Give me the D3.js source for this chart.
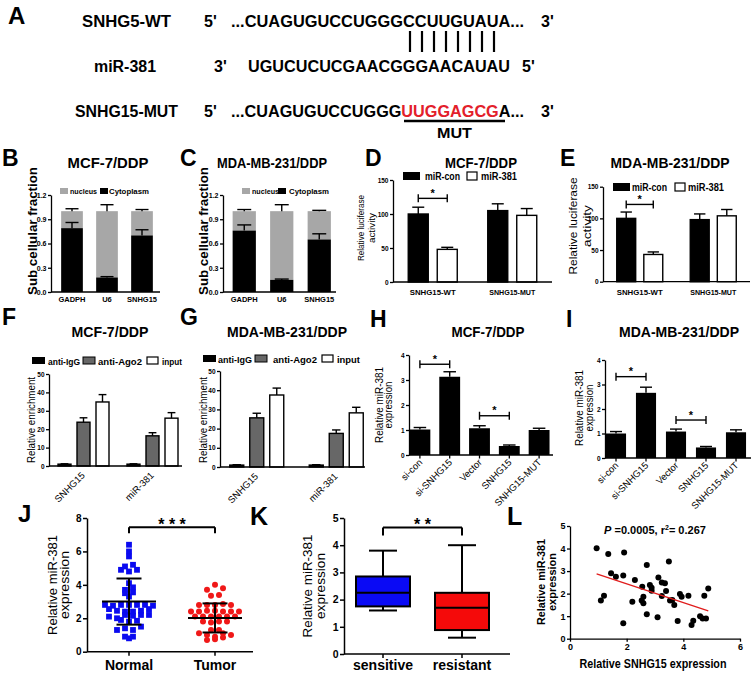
<!DOCTYPE html>
<html>
<head>
<meta charset="utf-8">
<script src="https://cdn.jsdelivr.net/npm/d3@7/dist/d3.min.js"></script>
<style>html,body{margin:0;padding:0;background:#fff;}svg{display:block;}</style>
</head>
<body>
<script>
// ================= DATA =================
// Panel A
const seqWT = "...CUAGUGUCCUGGGCCUUGUAUA...";
const seqMiR = "UGUCUCUCGAACGGGAACAUAU";
const seqMutParts = ["...CUAGUGUCCUGGG", "UUGGAGCG", "A..."];
const pairedIdx = [16, 17, 18, 19, 20, 21, 22, 23];
// Panels B, C (subcellular fraction)
const fracGenes = ["GADPH", "U6", "SNHG15"];
const fracLegend = ["nucleus", "Cytoplasm"];
const cytoB = [0.79, 0.18, 0.70];
const cytoErrB = [0.07, 0.01, 0.07];
const nucB = [0.21, 0.82, 0.30];
const nucErrB = [0.03, 0.08, 0.02];
const cytoC = [0.76, 0.15, 0.65];
const cytoErrC = [0.07, 0.01, 0.07];
const nucC = [0.24, 0.85, 0.35];
const nucErrC = [0.02, 0.08, 0.01];
const fracTicks = [0, 0.3, 0.6, 0.9, 1.2];
// Panels D, E (luciferase)
const lucGroups = ["SNHG15-WT", "SNHG15-MUT"];
const lucSeries = ["miR-con", "miR-381"];
const lucD = [[100, 48], [105, 98]];
const lucErrD = [[10, 3], [10, 10]];
const lucE = [[100, 43], [98, 104]];
const lucErrE = [[10, 4], [9, 10]];
const lucTicks = [0, 50, 100, 150];
const lucSigD = [{group: "SNHG15-WT", y: 123, label: "*"}];
const lucSigE = [{group: "SNHG15-WT", y: 122, label: "*"}];
// Panels F, G (RIP)
const ripGroups = ["SNHG15", "miR-381"];
const ripSeries = ["anti-IgG", "anti-Ago2", "input"];
const ripF = [[1, 23.8, 34.8], [1, 16.4, 26]];
const ripErrF = [[0.2, 2.4, 4], [0.2, 1.7, 3]];
const ripG = [[1, 25.6, 37.5], [1, 17.5, 28.2]];
const ripErrG = [[0.2, 2.4, 3.6], [0.2, 1.8, 2.9]];
const ripTicks = [0, 10, 20, 30, 40, 50];
// Panels H, I (miR-381 expression)
const exprCats = ["si-con", "si-SNHG15", "Vector", "SNHG15", "SNHG15-MUT"];
const exprH = [1.02, 3.13, 1.07, 0.36, 1.0];
const exprErrH = [0.08, 0.2, 0.1, 0.04, 0.07];
const exprI = [1.0, 2.66, 1.08, 0.43, 1.05];
const exprErrI = [0.08, 0.23, 0.1, 0.04, 0.1];
const exprTicks = [0, 1, 2, 3, 4];
const exprSigH = [{from: "si-con", to: "si-SNHG15", y: 3.63, label: "*"}, {from: "Vector", to: "SNHG15", y: 1.57, label: "*"}];
const exprSigI = [{from: "si-con", to: "si-SNHG15", y: 3.32, label: "*"}, {from: "Vector", to: "SNHG15", y: 1.55, label: "*"}];
// Panel J (scatter dot plot)
const jCats = ["Normal", "Tumor"];
const jNormal = [6.4, 6.0, 5.7, 5.1, 5.2, 4.9, 4.8, 4.9, 4.1, 3.7, 3.85, 3.5, 3.55, 3.3,
  2.8, 2.75, 2.8, 2.8, 2.8, 2.8, 2.75, 2.55, 2.45, 2.4, 2.4, 2.45, 2.55,
  2.1, 2.0, 2.2, 2.15, 2.2, 2.2, 1.9, 1.8, 1.85, 1.3, 1.4, 1.3, 1.5, 0.8, 0.9, 0.9];
const jTumor = [3.7, 4.0, 3.8, 3.35, 3.4, 2.8, 2.8, 2.8, 2.85, 2.8,
  2.4, 2.4, 2.45, 2.45, 2.4, 2.4, 2.4, 2.1, 2.1, 2.1, 2.1, 2.1, 2.1,
  1.8, 1.75, 1.8, 1.8, 1.3, 1.3, 1.1, 1.0, 0.9, 1.1, 1.0, 0.7, 0.75, 0.85];
const jMean = [3.0, 2.02];
const jSD = [1.38, 0.87];
const jTicks = [0, 2, 4, 6, 8];
const jSig = {y: 7.45, label: "* * *"};
// Panel K (box plot)
const kCats = ["sensitive", "resistant"];
const kMin = [1.6, 0.6];
const kQ1 = [1.75, 0.88];
const kMed = [2.25, 1.7];
const kQ3 = [2.85, 2.25];
const kMax = [3.8, 4.0];
const kTicks = [0, 1, 2, 3, 4, 5];
const kSig = {y: 4.65, label: "* *"};
// Panel L (correlation)
const lX = [0.94, 1.35, 1.91, 1.45, 1.62, 1.88, 2.71, 2.29, 1.2, 1.09, 1.88, 2.2, 2.55, 2.59, 2.53, 2.59, 2.71,
  2.82, 2.88, 2.88, 3.12, 3.24, 3.35, 3.39, 3.24, 3.49, 3.53, 3.61, 3.68, 3.09, 3.8, 3.88, 3.94, 4.18,
  4.29, 4.35, 4.59, 4.68, 4.8, 4.74, 4.88];
const lY = [4.01, 3.76, 3.82, 2.9, 2.75, 2.8, 3.27, 2.6, 1.91, 1.69, 0.68, 1.64, 2.31, 1.86, 1.69, 1.57, 1.09,
  2.38, 2.26, 2.13, 2.71, 2.49, 2.46, 2.12, 1.89, 3.42, 1.69, 1.72, 1.49, 0.95, 0.78, 1.98, 1.86, 1.91,
  0.61, 0.8, 1.0, 0.9, 0.9, 1.91, 2.23];
const lFit = [3.26, -0.414]; // intercept, slope
const lStats = ["0.0005", "0.267"];
const lXTicks = [0, 2, 4, 6];
const lYTicks = [0, 1, 2, 3, 4, 5];

// ================= DRAWING =================
const FONT = "'Liberation Sans', Arial, Helvetica, sans-serif";
const svg = d3.select("body").append("svg").attr("width", 753).attr("height", 673)
  .attr("font-family", FONT);
svg.append("rect").attr("width", 753).attr("height", 673).attr("fill", "#fff");

function T(g, s, x, y, o = {}) {
  const t = g.append("text").attr("x", x).attr("y", y)
    .attr("font-family", FONT).attr("font-size", o.size || 10)
    .attr("font-weight", o.bold === false ? "normal" : "bold")
    .attr("text-anchor", o.anchor || "start").attr("fill", o.fill || "#000").text(s);
  if (o.w) t.attr("textLength", o.w).attr("lengthAdjust", "spacingAndGlyphs");
  if (o.rot != null) t.attr("transform", `rotate(${o.rot},${x},${y})`);
  return t;
}
function L(g, x1, y1, x2, y2, sw = 1.4, c = "#000") {
  return g.append("line").attr("x1", x1).attr("y1", y1).attr("x2", x2).attr("y2", y2)
    .attr("stroke", c).attr("stroke-width", sw);
}
function errBar(g, x, y1, y2, cap, sw = 1.4) {
  L(g, x, y1, x, y2, sw); L(g, x - cap / 2, y2, x + cap / 2, y2, sw);
}
function yAxis(g, y, x, ticks, fmt, o = {}) {
  const ax = d3.axisLeft(y).tickValues(ticks).tickFormat(fmt).tickSize(o.tick || 3)
    .tickSizeOuter(0).tickPadding(o.pad == null ? 1.5 : o.pad);
  const a = g.append("g").attr("transform", `translate(${x},0)`).call(ax)
    .attr("font-family", FONT);
  a.select(".domain").attr("stroke", "#000").attr("stroke-width", o.sw || 1.3);
  a.selectAll(".tick line").attr("stroke", "#000").attr("stroke-width", o.sw || 1.3);
  a.selectAll(".tick text").attr("font-size", o.size || 7).attr("font-weight", "bold").attr("fill", "#000");
  return a;
}
function yTitle(g, lines, xs, cy, o) {
  lines.forEach((s, i) => T(g, s, xs[i], cy, {size: o.size, bold: o.bold, anchor: "middle", rot: -90, w: o.w ? o.w[i] : null}));
}
function sigBracket(g, x1, x2, y, label, o) {
  L(g, x1, y, x2, y, o.sw || 1.4);
  L(g, x1, y - (o.up || 0), x1, y + (o.down || 0), o.sw || 1.4);
  L(g, x2, y - (o.up || 0), x2, y + (o.down || 0), o.sw || 1.4);
  T(g, label, (x1 + x2) / 2, y + o.ldy, {size: o.size, anchor: "middle"});
}

// ---------- Panel A ----------
(function () {
  const g = svg.append("g");
  T(g, "A", 8, 24, {size: 24});
  const fs = 16;
  T(g, "SNHG5-WT", 126.5, 27, {size: fs, anchor: "middle", w: 89});
  T(g, "5'", 204, 27, {size: fs});
  const wt = T(g, seqWT, 231, 27, {size: fs, w: 293});
  T(g, "3'", 541, 27, {size: fs});

  T(g, "miR-381", 125, 72, {size: fs, anchor: "middle", w: 62});
  T(g, "3'", 214, 72, {size: fs});
  T(g, seqMiR, 248, 72, {size: fs, w: 262});
  T(g, "5'", 522, 72, {size: fs});

  T(g, "SNHG15-MUT", 126.5, 117, {size: fs, anchor: "middle", w: 103});
  T(g, "5'", 204, 117, {size: fs});
  const mut = g.append("text").attr("x", 231).attr("y", 117).attr("font-size", fs)
    .attr("font-weight", "bold").attr("font-family", FONT)
    .attr("textLength", 293).attr("lengthAdjust", "spacingAndGlyphs");
  mut.append("tspan").attr("fill", "#000").text(seqMutParts[0]);
  mut.append("tspan").attr("fill", "#e3202a").text(seqMutParts[1]);
  mut.append("tspan").attr("fill", "#000").text(seqMutParts[2]);
  T(g, "3'", 541, 117, {size: fs});

  const wn = wt.node();
  pairedIdx.forEach((ci, k) => {
    let cx;
    try { const r = wn.getExtentOfCharAt(ci); cx = r.x + r.width / 2; }
    catch (e) { cx = 410 + k * 12; }
    L(g, cx, 31, cx, 52, 2.2);
  });
  let u1 = 405, u2 = 504;
  try {
    const mn = mut.node();
    const a = mn.getExtentOfCharAt(seqMutParts[0].length);
    const b = mn.getExtentOfCharAt(seqMutParts[0].length + seqMutParts[1].length - 1);
    u1 = a.x; u2 = b.x + b.width;
  } catch (e) {}
  L(g, u1 - 1, 121, u2 + 1, 121, 2.6);
  T(g, "MUT", (u1 + u2) / 2, 138, {size: 15, anchor: "middle", w: 35});
})();

// ---------- Panels B, C ----------
function fracPanel(cfg) {
  const g = svg.append("g");
  T(g, cfg.letter, cfg.lx, 166, {size: 23});
  T(g, cfg.title, cfg.tx, 168, {size: 14, anchor: "middle", w: cfg.tw});
  const y = d3.scaleLinear().domain([0, 1.2]).range([292, 195]);
  const x = d3.scaleBand().domain(fracGenes).range(cfg.xr).paddingInner(cfg.pad).paddingOuter(cfg.pad / 2);
  const bw = x.bandwidth();
  fracGenes.forEach((gn, i) => {
    const bx = x(gn), cx = bx + bw / 2;
    const top = cfg.cyto[i] + cfg.nuc[i];
    g.append("rect").attr("x", bx).attr("y", y(top)).attr("width", bw)
      .attr("height", y(cfg.cyto[i]) - y(top)).attr("fill", "#a7a7a7");
    g.append("rect").attr("x", bx).attr("y", y(cfg.cyto[i])).attr("width", bw)
      .attr("height", y(0) - y(cfg.cyto[i])).attr("fill", "#000");
    errBar(g, cx, y(top), y(top + cfg.nucErr[i]), bw * 0.6);
    errBar(g, cx, y(cfg.cyto[i]), y(cfg.cyto[i] + cfg.cytoErr[i]), bw * 0.6);
    T(g, gn, cx, 302, {size: 7.5, anchor: "middle"});
  });
  yAxis(g, y, cfg.ax, fracTicks, d3.format(".1f"), {size: 7});
  L(g, cfg.ax, y(0), cfg.xEnd, y(0), 1.3);
  yTitle(g, ["Sub cellular fraction"], [cfg.ytx], 231, {size: 12, bold: true, w: [128]});
  g.append("rect").attr("x", cfg.leg[0]).attr("y", 188).attr("width", 8).attr("height", 6).attr("fill", "#a7a7a7");
  T(g, fracLegend[0], cfg.leg[1], 194, {size: 7.5, w: 27});
  g.append("rect").attr("x", cfg.leg[2]).attr("y", 188).attr("width", 8).attr("height", 6).attr("fill", "#000");
  T(g, fracLegend[1], cfg.leg[3], 194, {size: 7.5, w: 40});
}
fracPanel({letter: "B", lx: 2, title: "MCF-7/DDP", tx: 108, tw: 81, xr: [54.5, 159.5], pad: 0.38,
  cyto: cytoB, cytoErr: cytoErrB, nuc: nucB, nucErr: nucErrB, ax: 51, xEnd: 160, ytx: 37, leg: [60, 70, 100, 109]});
fracPanel({letter: "C", lx: 180, title: "MDA-MB-231/DDP", tx: 272, tw: 110, xr: [225.5, 338], pad: 0.38,
  cyto: cytoC, cytoErr: cytoErrC, nuc: nucC, nucErr: nucErrC, ax: 223, xEnd: 336, ytx: 208, leg: [242, 252, 278, 289]});

// ---------- grouped bars (D,E,F,G) ----------
function groupedBars(g, cfg) {
  const y = d3.scaleLinear().domain(cfg.yDomain).range(cfg.yRange);
  const x0 = d3.scaleBand().domain(cfg.groups).range(cfg.xr);
  const xi = d3.scaleBand().domain(cfg.series).range([-cfg.gw / 2, cfg.gw / 2]).paddingInner(cfg.pi);
  const bw = xi.bandwidth();
  const gc = gn => x0(gn) + x0.bandwidth() / 2;
  const center = (gn, s) => gc(gn) + xi(s) + bw / 2;
  cfg.groups.forEach((gn, gi) => cfg.series.forEach((s, si) => {
    const v = cfg.vals[gi][si], e = cfg.errs[gi][si], cx = center(gn, s);
    g.append("rect").attr("x", cx - bw / 2).attr("y", y(v)).attr("width", bw).attr("height", y(0) - y(v))
      .attr("fill", cfg.fills[si]).attr("stroke", "#000").attr("stroke-width", 1.4);
    errBar(g, cx, y(v), y(v + e), bw * cfg.capR, 1.4);
  }));
  yAxis(g, y, cfg.ax, cfg.ticks, d3.format("d"), {size: cfg.tsize || 7});
  L(g, cfg.ax, y(0), cfg.xEnd, y(0), 1.3);
  return {y, gc, center};
}

function lucPanel(cfg) {
  const g = svg.append("g");
  T(g, cfg.letter, cfg.lx, 166, {size: 23});
  T(g, cfg.title, cfg.tx, 168, {size: 14, anchor: "middle", w: cfg.tw});
  const r = groupedBars(g, {yDomain: [0, 150], yRange: cfg.yRange, groups: lucGroups, series: lucSeries,
    xr: cfg.xr, gw: cfg.gw, pi: cfg.pi, vals: cfg.vals, errs: cfg.errs, fills: ["#000", "#fff"],
    capR: 0.6, ax: cfg.ax, ticks: lucTicks, xEnd: cfg.xEnd, tsize: 6.5});
  lucGroups.forEach(gn => T(g, gn, r.gc(gn), 295, {size: 8, anchor: "middle", w: 46}));
  cfg.sig.forEach(s => sigBracket(g, r.center(s.group, lucSeries[0]), r.center(s.group, lucSeries[1]),
    r.y(s.y), s.label, {up: 4, down: 4, size: 11, ldy: -1.5}));
  yTitle(g, ["Relative luciferase", "activity"], cfg.ytx, cfg.ytcy, {size: cfg.yts, bold: false, w: cfg.ytw});
  const lg = cfg.leg;
  g.append("rect").attr("x", lg[0]).attr("y", lg[4]).attr("width", 17).attr("height", 8).attr("fill", "#000");
  T(g, lucSeries[0], lg[1], lg[4] + 8, {size: 10, w: 35});
  g.append("rect").attr("x", lg[2]).attr("y", lg[4]).attr("width", 10).attr("height", 8)
    .attr("fill", "#fff").attr("stroke", "#000").attr("stroke-width", 1.2);
  T(g, lucSeries[1], lg[3], lg[4] + 8, {size: 10, w: 36});
}
lucPanel({letter: "D", lx: 365, title: "MCF-7/DDP", tx: 481, tw: 72, yRange: [282, 180], xr: [393, 552],
  gw: 49, pi: 0.31, vals: lucD, errs: lucErrD, ax: 393, xEnd: 552, sig: lucSigD,
  ytx: [364, 375], ytcy: 228, yts: 8.5, ytw: [66, 30], leg: [403, 425, 467, 481, 172]});
lucPanel({letter: "E", lx: 560, title: "MDA-MB-231/DDP", tx: 670, tw: 119, yRange: [281.7, 186.7], xr: [603, 750],
  gw: 46, pi: 0.3, vals: lucE, errs: lucErrE, ax: 603, xEnd: 750, sig: lucSigE,
  ytx: [577, 591], ytcy: 226, yts: 11.5, ytw: [97, 42], leg: [613, 632, 675, 688, 183]});

function ripPanel(cfg) {
  const g = svg.append("g");
  T(g, cfg.letter, cfg.lx, 325, {size: 23});
  T(g, cfg.title, cfg.tx, 337, {size: 15, anchor: "middle", w: cfg.tw});
  const r = groupedBars(g, {yDomain: [0, 50], yRange: cfg.yRange, groups: ripGroups, series: ripSeries,
    xr: cfg.xr, gw: cfg.gw, pi: cfg.pi, vals: cfg.vals, errs: cfg.errs, fills: ["#000", "#676767", "#fff"],
    capR: 0.6, ax: cfg.ax, ticks: ripTicks, xEnd: cfg.xEnd, tsize: 6.5});
  ripGroups.forEach(gn => T(g, gn, r.gc(gn) + 2, r.y(0) + 10, {size: 9.5, bold: false, anchor: "end", rot: -45}));
  yTitle(g, ["Relative enrichment"], [cfg.ytx], 420, {size: 10.5, bold: false, w: [86]});
  const lg = cfg.leg, ly = cfg.ly;
  g.append("rect").attr("x", lg[0]).attr("y", ly).attr("width", 13).attr("height", 7).attr("fill", "#000");
  T(g, ripSeries[0], lg[1], ly + 7.5, {size: 9.5, w: lg[6]});
  g.append("rect").attr("x", lg[2]).attr("y", ly).attr("width", 12).attr("height", 7).attr("fill", "#676767")
    .attr("stroke", "#000").attr("stroke-width", 1);
  T(g, ripSeries[1], lg[3], ly + 7.5, {size: 9.5, w: lg[7]});
  g.append("rect").attr("x", lg[4]).attr("y", ly).attr("width", 11).attr("height", 7).attr("fill", "#fff")
    .attr("stroke", "#000").attr("stroke-width", 1.2);
  T(g, ripSeries[2], lg[5], ly + 7.5, {size: 9.5, w: lg[8]});
}
ripPanel({letter: "F", lx: 2, title: "MCF-7/DDP", tx: 110, tw: 77, yRange: [466, 374], xr: [49, 187],
  gw: 51, pi: 0.316, vals: ripF, errs: ripErrF, ax: 49, xEnd: 182, ytx: 35,
  leg: [32, 48, 83, 98, 147, 162, 32, 44, 20], ly: 357});
ripPanel({letter: "G", lx: 180, title: "MDA-MB-231/DDP", tx: 287, tw: 120, yRange: [467, 371], xr: [217, 376],
  gw: 54, pi: 0.3, vals: ripG, errs: ripErrG, ax: 220, xEnd: 365, ytx: 207,
  leg: [203, 218, 255, 273, 322, 337, 34, 44, 23], ly: 355});

function exprPanel(cfg) {
  const g = svg.append("g");
  T(g, cfg.letter, cfg.lx, 327, {size: 23});
  T(g, cfg.title, cfg.tx, 337, {size: 15, anchor: "middle", w: cfg.tw});
  const y = d3.scaleLinear().domain([0, 4]).range(cfg.yRange);
  const x = d3.scaleBand().domain(exprCats).range(cfg.xr).paddingInner(cfg.pad).paddingOuter(cfg.pad / 2);
  const bw = x.bandwidth(), cx = c => x(c) + bw / 2;
  exprCats.forEach((c, i) => {
    g.append("rect").attr("x", x(c)).attr("y", y(cfg.vals[i])).attr("width", bw)
      .attr("height", y(0) - y(cfg.vals[i])).attr("fill", "#000");
    errBar(g, cx(c), y(cfg.vals[i]), y(cfg.vals[i] + cfg.errs[i]), bw * 0.6, 1.4);
    L(g, cx(c), y(0), cx(c), y(0) + 3.5, 1.3);
    T(g, c, cx(c) + 3, y(0) + 8, {size: 9.5, bold: false, anchor: "end", rot: -45});
  });
  yAxis(g, y, cfg.ax, exprTicks, d3.format("d"), {size: 6.5});
  L(g, cfg.ax, y(0), cfg.xEnd, y(0), 1.3);
  cfg.sig.forEach(s => sigBracket(g, cx(s.from), cx(s.to), y(s.y), s.label, {up: 4, down: 4, size: 11, ldy: -1.5}));
  yTitle(g, ["Relative miR-381", "expression"], cfg.ytx, cfg.ytcy, {size: 10, bold: false, w: [76, 47]});
}
exprPanel({letter: "H", lx: 370, title: "MCF-7/DDP", tx: 488, tw: 73, yRange: [455, 355], xr: [405, 554],
  pad: 0.3, vals: exprH, errs: exprErrH, ax: 409, xEnd: 553, sig: exprSigH, ytx: [383, 392], ytcy: 405});
exprPanel({letter: "I", lx: 566, title: "MDA-MB-231/DDP", tx: 679, tw: 120, yRange: [458, 360], xr: [601, 751],
  pad: 0.33, vals: exprI, errs: exprErrI, ax: 605, xEnd: 751, sig: exprSigI, ytx: [583, 593], ytcy: 408});

// ---------- Panel J ----------
(function () {
  const g = svg.append("g");
  T(g, "J", 18, 522, {size: 24});
  const y = d3.scaleLinear().domain([0, 8]).range([651.7, 518]);
  const x = d3.scalePoint().domain(jCats).range([129, 215]);
  function swarm(vals, cx) {
    const bins = d3.group(vals.map((v, i) => ({v, i})), d => Math.round(d.v / 0.35));
    const out = [];
    for (const arr of bins.values()) {
      const n = arr.length;
      arr.forEach((d, j) => out.push({v: d.v, x: cx + (j - (n - 1) / 2) * 8}));
    }
    return out;
  }
  const ptsN = swarm(jNormal, x("Normal"));
  const ptsT = swarm(jTumor, x("Tumor"));
  g.selectAll(".sq").data(ptsN).enter().append("rect")
    .attr("x", d => d.x - 2.9).attr("y", d => y(d.v) - 2.9).attr("width", 5.8).attr("height", 5.8).attr("fill", "#0a0af0");
  g.selectAll(".ci").data(ptsT).enter().append("circle")
    .attr("cx", d => d.x).attr("cy", d => y(d.v)).attr("r", 3).attr("fill", "#f01818");
  jCats.forEach((c, i) => {
    const cx = x(c);
    L(g, cx - 27, y(jMean[i]), cx + 27, y(jMean[i]), 2);
    L(g, cx, y(jMean[i] - jSD[i]), cx, y(jMean[i] + jSD[i]), 2);
    L(g, cx - 12.5, y(jMean[i] - jSD[i]), cx + 12.5, y(jMean[i] - jSD[i]), 2);
    L(g, cx - 12.5, y(jMean[i] + jSD[i]), cx + 12.5, y(jMean[i] + jSD[i]), 2);
    L(g, cx, y(0), cx, y(0) + 4, 1.5);
    T(g, c, cx, 670, {size: 14, anchor: "middle"});
  });
  yAxis(g, y, 87, jTicks, d3.format("d"), {size: 10, tick: 4, sw: 1.5});
  L(g, 87, y(0), 253, y(0), 1.5);
  sigBracket(g, x("Normal"), x("Tumor"), y(jSig.y), jSig.label, {up: 0, down: 6, size: 16, ldy: 3, sw: 2});
  yTitle(g, ["Relative miR-381", "expression"], [57, 69], 585, {size: 13.5, bold: false, w: [100, 68]});
})();

// ---------- Panel K ----------
(function () {
  const g = svg.append("g");
  T(g, "K", 250, 525, {size: 25});
  const y = d3.scaleLinear().domain([0, 5]).range([654, 518]);
  const x = d3.scalePoint().domain(kCats).range([383, 462]);
  const fills = ["#0a0af5", "#f50a0a"];
  kCats.forEach((c, i) => {
    const cx = x(c);
    L(g, cx, y(kMin[i]), cx, y(kMax[i]), 2);
    L(g, cx - 14, y(kMin[i]), cx + 14, y(kMin[i]), 2);
    L(g, cx - 14, y(kMax[i]), cx + 14, y(kMax[i]), 2);
    g.append("rect").attr("x", cx - 27).attr("y", y(kQ3[i])).attr("width", 54)
      .attr("height", y(kQ1[i]) - y(kQ3[i])).attr("fill", fills[i]).attr("stroke", "#000").attr("stroke-width", 2);
    L(g, cx - 27, y(kMed[i]), cx + 27, y(kMed[i]), 2);
    L(g, cx, y(0), cx, y(0) + 4, 1.5);
    T(g, c, cx, 670, {size: 14, anchor: "middle"});
  });
  yAxis(g, y, 344, kTicks, d3.format("d"), {size: 10.5, tick: 4, sw: 1.5});
  L(g, 344, y(0), 510, y(0), 1.5);
  sigBracket(g, x("sensitive"), x("resistant"), y(kSig.y), kSig.label, {up: 0, down: 8, size: 16, ldy: 2, sw: 2});
  yTitle(g, ["Relative miR-381", "expression"], [312, 325], 586, {size: 13.5, bold: false, w: [103, 66]});
})();

// ---------- Panel L ----------
(function () {
  const g = svg.append("g");
  T(g, "L", 507, 525, {size: 25});
  const x = d3.scaleLinear().domain([0, 6]).range([570, 740]);
  const y = d3.scaleLinear().domain([0, 5]).range([638.7, 526]);
  const pts = lX.map((v, i) => [v, lY[i]]);
  g.selectAll("circle").data(pts).enter().append("circle")
    .attr("cx", d => x(d[0])).attr("cy", d => y(d[1])).attr("r", 3).attr("fill", "#000");
  const ext = d3.extent(lX);
  L(g, x(ext[0]), y(lFit[0] + lFit[1] * ext[0]), x(ext[1]), y(lFit[0] + lFit[1] * ext[1]), 1.3, "#e01c1c");
  yAxis(g, y, 570, lYTicks, d3.format("d"), {size: 9, tick: 3, sw: 1.3});
  const ax = g.append("g").attr("transform", `translate(0,${y(0)})`)
    .call(d3.axisBottom(x).tickValues(lXTicks).tickFormat(d3.format("d")).tickSize(3).tickSizeOuter(0).tickPadding(1.5))
    .attr("font-family", FONT);
  ax.select(".domain").attr("stroke", "#000").attr("stroke-width", 1.3);
  ax.selectAll(".tick line").attr("stroke", "#000").attr("stroke-width", 1.3);
  ax.selectAll(".tick text").attr("font-size", 9).attr("font-weight", "bold").attr("fill", "#000");
  T(g, "Relative SNHG15 expression", 653, 668, {size: 12, anchor: "middle", w: 147});
  yTitle(g, ["Relative miR-381", "expression"], [545, 556], 582, {size: 11, bold: true, w: [86, 58]});
  const t = g.append("text").attr("x", 655).attr("y", 534).attr("text-anchor", "middle")
    .attr("font-size", 11).attr("font-weight", "bold").attr("font-family", FONT);
  t.append("tspan").attr("font-style", "italic").text("P");
  t.append("tspan").text(" =" + lStats[0] + ", r");
  t.append("tspan").attr("dy", -4).attr("font-size", 7).text("2");
  t.append("tspan").attr("dy", 4).text("= " + lStats[1]);
})();
</script>
</body>
</html>
